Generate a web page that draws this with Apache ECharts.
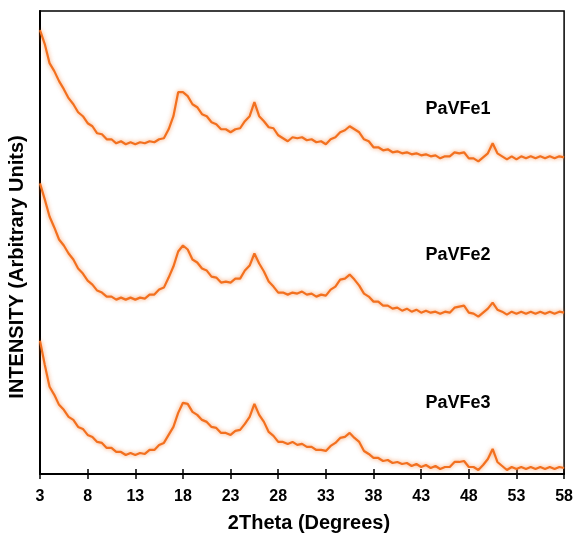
<!DOCTYPE html>
<html>
<head>
<meta charset="utf-8">
<script src="https://cdn.jsdelivr.net/npm/echarts@6/dist/echarts.min.js"></script>
<style>html,body{margin:0;padding:0;background:#fff}#c{width:576px;height:536px}</style>
</head>
<body>
<div id="c"></div>
<script>
// 2Theta sample positions (degrees), every 0.5 from 3 to 58
var twoTheta = [3,3.5,4,4.5,5,5.5,6,6.5,7,7.5,8,8.5,9,9.5,10,10.5,11,11.5,12,12.5,13,13.5,14,14.5,15,15.5,16,16.5,17,17.5,18,18.5,19,19.5,20,20.5,21,21.5,22,22.5,23,23.5,24,24.5,25,25.5,26,26.5,27,27.5,28,28.5,29,29.5,30,30.5,31,31.5,32,32.5,33,33.5,34,34.5,35,35.5,36,36.5,37,37.5,38,38.5,39,39.5,40,40.5,41,41.5,42,42.5,43,43.5,44,44.5,45,45.5,46,46.5,47,47.5,48,48.5,49,49.5,50,50.5,51,51.5,52,52.5,53,53.5,54,54.5,55,55.5,56,56.5,57,57.5,58];
var xTicks = [3,8,13,18,23,28,33,38,43,48,53,58];
var seriesNames = ['PaVFe1','PaVFe2','PaVFe3'];
// intensities (arbitrary units, offset-stacked as in the figure)
var paVFe1 = [443,429,410,402,392,384,375,369,361,357,350,347,340,339,334,334,330,332,329,331,329,331,330,332,331,334,335,344,357,381,381,377,369,366,359,357,351,349,344,344,341,344,345,352,357,371,357,352,346,345,338,335,332,336,335,336,333,334,331,332,329,334,336,341,343,347,344,341,334,332,326,326,323,324,321,322,320,321,319,320,318,319,317,318,315,317,317,321,320,321,315,315,312,316,320,330,320,317,314,317,314,317,315,317,315,317,315,317,315,317,316];
var paVFe2 = [290,274,257,246,234,228,220,214,205,200,193,189,183,181,177,177,174,176,174,176,174,176,175,179,179,184,186,196,207,222,228,224,214,211,205,203,197,196,191,192,191,195,195,203,208,220,210,202,192,187,181,181,179,181,180,182,179,180,177,179,178,184,187,194,195,199,194,188,180,177,172,172,168,168,165,166,163,165,162,164,161,163,161,162,160,162,161,166,167,168,161,160,157,161,165,171,164,162,159,162,160,162,160,162,160,162,160,162,160,162,161];
var paVFe3 = [133,109,87,79,69,64,57,54,47,45,39,37,32,31,26,26,22,22,19,21,19,21,20,24,24,29,31,39,47,61,71,70,62,59,54,52,47,46,41,41,39,43,44,50,57,70,59,52,42,38,32,32,30,32,29,30,27,27,24,24,23,28,31,36,37,41,36,32,23,20,16,16,13,14,11,12,10,11,8,10,7,9,6,8,5,7,7,12,12,13,7,7,4,9,15,25,12,8,4,7,5,7,5,7,5,7,5,7,5,7,6];

function pairs(vals){ return twoTheta.map(function(x,i){ return [x, vals[i]]; }); }
var allVals = [paVFe1, paVFe2, paVFe3];
var lineColor = '#f2701f';
var ff = 'Arial, "Liberation Sans", sans-serif';

var chart = echarts.init(document.getElementById('c'));
chart.setOption({
  animation: false,
  backgroundColor: '#fff',
  grid: { left: 40, right: 7, top: 11, bottom: 62, show: true, borderColor: '#000', borderWidth: 1.5 },
  xAxis: [{
    type: 'value', min: xTicks[0], max: xTicks[xTicks.length-1], interval: 5, position: 'bottom',
    axisLine: { show: true, lineStyle: { color: '#000', width: 2 } },
    axisTick: { show: true, inside: false, length: 5, lineStyle: { color: '#000', width: 1.5 } },
    axisLabel: { color: '#000', fontFamily: ff, fontWeight: 'bold', fontSize: 16, margin: 15, showMinLabel: true, showMaxLabel: true },
    splitLine: { show: false }
  }, {
    type: 'value', min: xTicks[0], max: xTicks[xTicks.length-1], interval: 5, position: 'bottom', offset: 0,
    axisLine: { show: false },
    axisTick: { show: true, inside: true, length: 5, lineStyle: { color: '#000', width: 1.5 } },
    axisLabel: { show: false }, splitLine: { show: false }
  }],
  yAxis: {
    type: 'value', min: 0, max: 462,
    axisLine: { show: true, lineStyle: { color: '#000', width: 2 } },
    axisTick: { show: false }, axisLabel: { show: false }, splitLine: { show: false }
  },
  series: allVals.map(function(v, k){
    return { name: seriesNames[k], type: 'line', xAxisIndex: 0, data: pairs(v), showSymbol: false, smooth: false,
      lineStyle: { color: lineColor, width: 2.2, shadowColor: 'rgba(242,112,31,0.7)', shadowBlur: 4 } };
  }),
  graphic: [
    { type: 'text', x: 309, y: 523, style: { text: '2Theta (Degrees)', font: 'bold 20px ' + ff, fill: '#000', textAlign: 'center', textVerticalAlign: 'middle' } },
    { type: 'text', x: 17, y: 267, rotation: Math.PI/2, style: { text: 'INTENSITY (Arbitrary Units)', font: 'bold 20px ' + ff, fill: '#000', textAlign: 'center', textVerticalAlign: 'middle' } },
    { type: 'text', x: 458, y: 109, style: { text: seriesNames[0], font: 'bold 18px ' + ff, fill: '#000', textAlign: 'center', textVerticalAlign: 'middle' } },
    { type: 'text', x: 458, y: 255, style: { text: seriesNames[1], font: 'bold 18px ' + ff, fill: '#000', textAlign: 'center', textVerticalAlign: 'middle' } },
    { type: 'text', x: 458, y: 403, style: { text: seriesNames[2], font: 'bold 18px ' + ff, fill: '#000', textAlign: 'center', textVerticalAlign: 'middle' } }
  ]
});
</script>
</body>
</html>
